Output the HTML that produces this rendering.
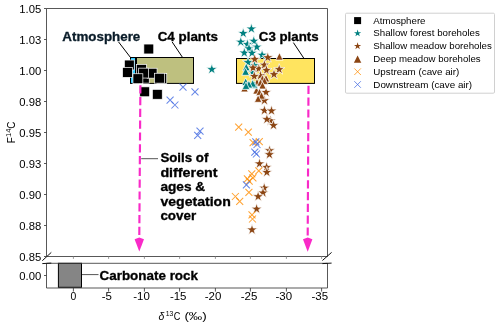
<!DOCTYPE html>
<html><head><meta charset="utf-8"><style>
html,body{margin:0;padding:0;background:#fff;overflow:hidden;}
svg{display:block;}
text{font-family:"Liberation Sans",sans-serif;}
svg{will-change:transform;}
</style></head><body>
<svg width="500" height="326" viewBox="0 0 500 326">
<rect width="500" height="326" fill="#fff"/>
<rect x="130.5" y="57.5" width="5" height="25.9" fill="#33CCFF" stroke="#000" stroke-width="1"/>
<rect x="136.5" y="57.5" width="57" height="25.9" fill="#BEC07F" stroke="#000" stroke-width="1"/>
<rect x="236.5" y="58.5" width="78" height="24.9" fill="#FFE45F" stroke="#000" stroke-width="1"/>
<rect x="143.85" y="44.05" width="9.90" height="9.90" fill="#000" stroke="#fff" stroke-width="0.7"/>
<rect x="124.35" y="60.05" width="9.90" height="9.90" fill="#000" stroke="#fff" stroke-width="0.7"/>
<rect x="122.55" y="67.45" width="9.90" height="9.90" fill="#000" stroke="#fff" stroke-width="0.7"/>
<rect x="139.35" y="73.25" width="9.90" height="9.90" fill="#000" stroke="#fff" stroke-width="0.7"/>
<rect x="147.15" y="68.25" width="9.90" height="9.90" fill="#000" stroke="#fff" stroke-width="0.7"/>
<rect x="156.85" y="73.45" width="9.90" height="9.90" fill="#000" stroke="#fff" stroke-width="0.7"/>
<rect x="136.45" y="64.45" width="9.90" height="9.90" fill="#000" stroke="#fff" stroke-width="0.7"/>
<rect x="138.65" y="68.15" width="9.90" height="9.90" fill="#000" stroke="#fff" stroke-width="0.7"/>
<rect x="154.45" y="73.25" width="9.90" height="9.90" fill="#000" stroke="#fff" stroke-width="0.7"/>
<rect x="132.95" y="73.75" width="9.90" height="9.90" fill="#000" stroke="#fff" stroke-width="0.7"/>
<rect x="139.75" y="86.85" width="9.90" height="9.90" fill="#000" stroke="#fff" stroke-width="0.7"/>
<rect x="152.35" y="89.35" width="9.90" height="9.90" fill="#000" stroke="#fff" stroke-width="0.7"/>
<polygon points="211.80,63.60 210.50,67.61 206.28,67.61 209.69,70.08 208.39,74.09 211.80,71.62 215.21,74.09 213.91,70.08 217.32,67.61 213.10,67.61" fill="#008080" stroke="#fff" stroke-width="0.75"/>
<polygon points="251.40,23.10 250.10,27.11 245.88,27.11 249.29,29.58 247.99,33.59 251.40,31.12 254.81,33.59 253.51,29.58 256.92,27.11 252.70,27.11" fill="#008080" stroke="#fff" stroke-width="0.75"/>
<polygon points="243.20,27.50 241.90,31.51 237.68,31.51 241.09,33.98 239.79,37.99 243.20,35.52 246.61,37.99 245.31,33.98 248.72,31.51 244.50,31.51" fill="#008080" stroke="#fff" stroke-width="0.75"/>
<polygon points="240.80,36.20 239.50,40.21 235.28,40.21 238.69,42.68 237.39,46.69 240.80,44.22 244.21,46.69 242.91,42.68 246.32,40.21 242.10,40.21" fill="#008080" stroke="#fff" stroke-width="0.75"/>
<polygon points="253.80,35.30 252.50,39.31 248.28,39.31 251.69,41.78 250.39,45.79 253.80,43.32 257.21,45.79 255.91,41.78 259.32,39.31 255.10,39.31" fill="#008080" stroke="#fff" stroke-width="0.75"/>
<polygon points="247.40,38.60 246.10,42.61 241.88,42.61 245.29,45.08 243.99,49.09 247.40,46.62 250.81,49.09 249.51,45.08 252.92,42.61 248.70,42.61" fill="#008080" stroke="#fff" stroke-width="0.75"/>
<polygon points="256.80,41.20 255.50,45.21 251.28,45.21 254.69,47.68 253.39,51.69 256.80,49.22 260.21,51.69 258.91,47.68 262.32,45.21 258.10,45.21" fill="#008080" stroke="#fff" stroke-width="0.75"/>
<polygon points="249.00,42.80 247.70,46.81 243.48,46.81 246.89,49.28 245.59,53.29 249.00,50.82 252.41,53.29 251.11,49.28 254.52,46.81 250.30,46.81" fill="#008080" stroke="#fff" stroke-width="0.75"/>
<polygon points="244.30,47.10 243.00,51.11 238.78,51.11 242.19,53.58 240.89,57.59 244.30,55.12 247.71,57.59 246.41,53.58 249.82,51.11 245.60,51.11" fill="#008080" stroke="#fff" stroke-width="0.75"/>
<polygon points="252.00,47.30 250.70,51.31 246.48,51.31 249.89,53.78 248.59,57.79 252.00,55.32 255.41,57.79 254.11,53.78 257.52,51.31 253.30,51.31" fill="#008080" stroke="#fff" stroke-width="0.75"/>
<polygon points="262.10,49.30 260.80,53.31 256.58,53.31 259.99,55.78 258.69,59.79 262.10,57.32 265.51,59.79 264.21,55.78 267.62,53.31 263.40,53.31" fill="#008080" stroke="#fff" stroke-width="0.75"/>
<polygon points="254.20,59.70 252.90,63.71 248.68,63.71 252.09,66.18 250.79,70.19 254.20,67.72 257.61,70.19 256.31,66.18 259.72,63.71 255.50,63.71" fill="#008080" stroke="#fff" stroke-width="0.75"/>
<polygon points="252.80,66.70 251.50,70.71 247.28,70.71 250.69,73.18 249.39,77.19 252.80,74.72 256.21,77.19 254.91,73.18 258.32,70.71 254.10,70.71" fill="#008080" stroke="#fff" stroke-width="0.75"/>
<polygon points="248.00,56.60 246.70,60.61 242.48,60.61 245.89,63.08 244.59,67.09 248.00,64.62 251.41,67.09 250.11,63.08 253.52,60.61 249.30,60.61" fill="#008080" stroke="#fff" stroke-width="0.75"/>
<polygon points="254.70,53.40 253.40,57.41 249.18,57.41 252.59,59.88 251.29,63.89 254.70,61.42 258.11,63.89 256.81,59.88 260.22,57.41 256.00,57.41" fill="#8B4513" stroke="#fff" stroke-width="0.75"/>
<polygon points="267.80,51.70 266.50,55.71 262.28,55.71 265.69,58.18 264.39,62.19 267.80,59.72 271.21,62.19 269.91,58.18 273.32,55.71 269.10,55.71" fill="#8B4513" stroke="#fff" stroke-width="0.75"/>
<polygon points="258.70,62.90 257.40,66.91 253.18,66.91 256.59,69.38 255.29,73.39 258.70,70.92 262.11,73.39 260.81,69.38 264.22,66.91 260.00,66.91" fill="#8B4513" stroke="#fff" stroke-width="0.75"/>
<polygon points="253.00,62.10 251.70,66.11 247.48,66.11 250.89,68.58 249.59,72.59 253.00,70.12 256.41,72.59 255.11,68.58 258.52,66.11 254.30,66.11" fill="#8B4513" stroke="#fff" stroke-width="0.75"/>
<polygon points="264.40,59.20 263.10,63.21 258.88,63.21 262.29,65.68 260.99,69.69 264.40,67.22 267.81,69.69 266.51,65.68 269.92,63.21 265.70,63.21" fill="#8B4513" stroke="#fff" stroke-width="0.75"/>
<polygon points="266.50,64.40 265.20,68.41 260.98,68.41 264.39,70.88 263.09,74.89 266.50,72.42 269.91,74.89 268.61,70.88 272.02,68.41 267.80,68.41" fill="#8B4513" stroke="#fff" stroke-width="0.75"/>
<polygon points="279.20,63.60 277.90,67.61 273.68,67.61 277.09,70.08 275.79,74.09 279.20,71.62 282.61,74.09 281.31,70.08 284.72,67.61 280.50,67.61" fill="#8B4513" stroke="#fff" stroke-width="0.75"/>
<polygon points="274.00,68.60 272.70,72.61 268.48,72.61 271.89,75.08 270.59,79.09 274.00,76.62 277.41,79.09 276.11,75.08 279.52,72.61 275.30,72.61" fill="#8B4513" stroke="#fff" stroke-width="0.75"/>
<polygon points="260.40,69.90 259.10,73.91 254.88,73.91 258.29,76.38 256.99,80.39 260.40,77.92 263.81,80.39 262.51,76.38 265.92,73.91 261.70,73.91" fill="#8B4513" stroke="#fff" stroke-width="0.75"/>
<polygon points="254.30,70.50 253.00,74.51 248.78,74.51 252.19,76.98 250.89,80.99 254.30,78.52 257.71,80.99 256.41,76.98 259.82,74.51 255.60,74.51" fill="#8B4513" stroke="#fff" stroke-width="0.75"/>
<polygon points="266.00,86.50 264.70,90.51 260.48,90.51 263.89,92.98 262.59,96.99 266.00,94.52 269.41,96.99 268.11,92.98 271.52,90.51 267.30,90.51" fill="#8B4513" stroke="#fff" stroke-width="0.75"/>
<polygon points="264.40,94.70 263.10,98.71 258.88,98.71 262.29,101.18 260.99,105.19 264.40,102.72 267.81,105.19 266.51,101.18 269.92,98.71 265.70,98.71" fill="#8B4513" stroke="#fff" stroke-width="0.75"/>
<polygon points="264.40,104.70 263.10,108.71 258.88,108.71 262.29,111.18 260.99,115.19 264.40,112.72 267.81,115.19 266.51,111.18 269.92,108.71 265.70,108.71" fill="#8B4513" stroke="#fff" stroke-width="0.75"/>
<polygon points="271.50,105.10 270.20,109.11 265.98,109.11 269.39,111.58 268.09,115.59 271.50,113.12 274.91,115.59 273.61,111.58 277.02,109.11 272.80,109.11" fill="#8B4513" stroke="#fff" stroke-width="0.75"/>
<polygon points="270.50,114.90 269.20,118.91 264.98,118.91 268.39,121.38 267.09,125.39 270.50,122.92 273.91,125.39 272.61,121.38 276.02,118.91 271.80,118.91" fill="#8B4513" stroke="#fff" stroke-width="0.75"/>
<polygon points="266.90,113.60 265.60,117.61 261.38,117.61 264.79,120.08 263.49,124.09 266.90,121.62 270.31,124.09 269.01,120.08 272.42,117.61 268.20,117.61" fill="#8B4513" stroke="#fff" stroke-width="0.75"/>
<polygon points="273.50,119.60 272.20,123.61 267.98,123.61 271.39,126.08 270.09,130.09 273.50,127.62 276.91,130.09 275.61,126.08 279.02,123.61 274.80,123.61" fill="#8B4513" stroke="#fff" stroke-width="0.75"/>
<polygon points="269.60,144.80 268.30,148.81 264.08,148.81 267.49,151.28 266.19,155.29 269.60,152.82 273.01,155.29 271.71,151.28 275.12,148.81 270.90,148.81" fill="#8B4513" stroke="#fff" stroke-width="0.75"/>
<polygon points="269.40,148.70 268.10,152.71 263.88,152.71 267.29,155.18 265.99,159.19 269.40,156.72 272.81,159.19 271.51,155.18 274.92,152.71 270.70,152.71" fill="#8B4513" stroke="#fff" stroke-width="0.75"/>
<polygon points="259.50,157.90 258.20,161.91 253.98,161.91 257.39,164.38 256.09,168.39 259.50,165.92 262.91,168.39 261.61,164.38 265.02,161.91 260.80,161.91" fill="#8B4513" stroke="#fff" stroke-width="0.75"/>
<polygon points="266.60,161.40 265.30,165.41 261.08,165.41 264.49,167.88 263.19,171.89 266.60,169.42 270.01,171.89 268.71,167.88 272.12,165.41 267.90,165.41" fill="#8B4513" stroke="#fff" stroke-width="0.75"/>
<polygon points="266.80,166.50 265.50,170.51 261.28,170.51 264.69,172.98 263.39,176.99 266.80,174.52 270.21,176.99 268.91,172.98 272.32,170.51 268.10,170.51" fill="#8B4513" stroke="#fff" stroke-width="0.75"/>
<polygon points="264.20,182.20 262.90,186.21 258.68,186.21 262.09,188.68 260.79,192.69 264.20,190.22 267.61,192.69 266.31,188.68 269.72,186.21 265.50,186.21" fill="#8B4513" stroke="#fff" stroke-width="0.75"/>
<polygon points="263.00,187.10 261.70,191.11 257.48,191.11 260.89,193.58 259.59,197.59 263.00,195.12 266.41,197.59 265.11,193.58 268.52,191.11 264.30,191.11" fill="#8B4513" stroke="#fff" stroke-width="0.75"/>
<polygon points="258.10,190.70 256.80,194.71 252.58,194.71 255.99,197.18 254.69,201.19 258.10,198.72 261.51,201.19 260.21,197.18 263.62,194.71 259.40,194.71" fill="#8B4513" stroke="#fff" stroke-width="0.75"/>
<polygon points="256.60,203.20 255.30,207.21 251.08,207.21 254.49,209.68 253.19,213.69 256.60,211.22 260.01,213.69 258.71,209.68 262.12,207.21 257.90,207.21" fill="#8B4513" stroke="#fff" stroke-width="0.75"/>
<polygon points="252.00,224.00 250.70,228.01 246.48,228.01 249.89,230.48 248.59,234.49 252.00,232.02 255.41,234.49 254.11,230.48 257.52,228.01 253.30,228.01" fill="#8B4513" stroke="#fff" stroke-width="0.75"/>
<polygon points="279.40,52.70 275.70,60.10 283.10,60.10" fill="#8B4513" stroke="#fff" stroke-width="0.75"/>
<polygon points="244.50,84.50 240.80,91.90 248.20,91.90" fill="#8B4513" stroke="#fff" stroke-width="0.75"/>
<polygon points="266.00,74.50 262.30,81.90 269.70,81.90" fill="#8B4513" stroke="#fff" stroke-width="0.75"/>
<polygon points="262.50,74.80 258.80,82.20 266.20,82.20" fill="#8B4513" stroke="#fff" stroke-width="0.75"/>
<polygon points="257.00,78.50 253.30,85.90 260.70,85.90" fill="#8B4513" stroke="#fff" stroke-width="0.75"/>
<polygon points="264.50,77.00 260.80,84.40 268.20,84.40" fill="#8B4513" stroke="#fff" stroke-width="0.75"/>
<polygon points="260.50,78.80 256.80,86.20 264.20,86.20" fill="#8B4513" stroke="#fff" stroke-width="0.75"/>
<polygon points="262.50,81.60 258.80,89.00 266.20,89.00" fill="#8B4513" stroke="#fff" stroke-width="0.75"/>
<polygon points="256.50,86.70 252.80,94.10 260.20,94.10" fill="#8B4513" stroke="#fff" stroke-width="0.75"/>
<polygon points="259.50,88.30 255.80,95.70 263.20,95.70" fill="#8B4513" stroke="#fff" stroke-width="0.75"/>
<polygon points="261.50,91.80 257.80,99.20 265.20,99.20" fill="#8B4513" stroke="#fff" stroke-width="0.75"/>
<polygon points="258.10,94.90 254.40,102.30 261.80,102.30" fill="#8B4513" stroke="#fff" stroke-width="0.75"/>
<polygon points="246.30,63.20 242.50,70.80 250.10,70.80" fill="#008080" stroke="#fff" stroke-width="0.75"/>
<polygon points="245.60,67.70 241.80,75.30 249.40,75.30" fill="#008080" stroke="#fff" stroke-width="0.75"/>
<polygon points="245.70,77.90 241.90,85.50 249.50,85.50" fill="#008080" stroke="#fff" stroke-width="0.75"/>
<polygon points="254.30,80.80 250.50,88.40 258.10,88.40" fill="#008080" stroke="#fff" stroke-width="0.75"/>
<polygon points="252.70,79.60 248.90,87.20 256.50,87.20" fill="#008080" stroke="#fff" stroke-width="0.75"/>
<polygon points="248.90,80.40 245.10,88.00 252.70,88.00" fill="#008080" stroke="#fff" stroke-width="0.75"/>
<polygon points="246.00,81.80 242.20,89.40 249.80,89.40" fill="#008080" stroke="#fff" stroke-width="0.75"/>
<path d="M235.20 123.60L242.20 130.60M235.20 130.60L242.20 123.60" stroke="#FF8C00" stroke-width="1.05" opacity="0.8" fill="none"/>
<path d="M244.80 128.70L251.80 135.70M244.80 135.70L251.80 128.70" stroke="#FF8C00" stroke-width="1.05" opacity="0.8" fill="none"/>
<path d="M249.60 139.20L256.60 146.20M249.60 146.20L256.60 139.20" stroke="#FF8C00" stroke-width="1.05" opacity="0.8" fill="none"/>
<path d="M255.80 138.10L262.80 145.10M255.80 145.10L262.80 138.10" stroke="#FF8C00" stroke-width="1.05" opacity="0.8" fill="none"/>
<path d="M255.30 167.30L262.30 174.30M255.30 174.30L262.30 167.30" stroke="#FF8C00" stroke-width="1.05" opacity="0.8" fill="none"/>
<path d="M248.30 170.30L255.30 177.30M248.30 177.30L255.30 170.30" stroke="#FF8C00" stroke-width="1.05" opacity="0.8" fill="none"/>
<path d="M249.40 174.30L256.40 181.30M249.40 181.30L256.40 174.30" stroke="#FF8C00" stroke-width="1.05" opacity="0.8" fill="none"/>
<path d="M243.90 175.40L250.90 182.40M243.90 182.40L250.90 175.40" stroke="#FF8C00" stroke-width="1.05" opacity="0.8" fill="none"/>
<path d="M245.70 177.60L252.70 184.60M245.70 184.60L252.70 177.60" stroke="#FF8C00" stroke-width="1.05" opacity="0.8" fill="none"/>
<path d="M245.40 188.80L252.40 195.80M245.40 195.80L252.40 188.80" stroke="#FF8C00" stroke-width="1.05" opacity="0.8" fill="none"/>
<path d="M231.90 193.00L238.90 200.00M231.90 200.00L238.90 193.00" stroke="#FF8C00" stroke-width="1.05" opacity="0.8" fill="none"/>
<path d="M236.20 197.90L243.20 204.90M236.20 204.90L243.20 197.90" stroke="#FF8C00" stroke-width="1.05" opacity="0.8" fill="none"/>
<path d="M248.50 211.40L255.50 218.40M248.50 218.40L255.50 211.40" stroke="#FF8C00" stroke-width="1.05" opacity="0.8" fill="none"/>
<path d="M249.00 215.50L256.00 222.50M249.00 222.50L256.00 215.50" stroke="#FF8C00" stroke-width="1.05" opacity="0.8" fill="none"/>
<path d="M179.50 83.60L186.50 90.60M179.50 90.60L186.50 83.60" stroke="#4169E1" stroke-width="1.05" opacity="0.8" fill="none"/>
<path d="M191.50 88.40L198.50 95.40M191.50 95.40L198.50 88.40" stroke="#4169E1" stroke-width="1.05" opacity="0.8" fill="none"/>
<path d="M166.60 96.70L173.60 103.70M166.60 103.70L173.60 96.70" stroke="#4169E1" stroke-width="1.05" opacity="0.8" fill="none"/>
<path d="M171.40 101.50L178.40 108.50M171.40 108.50L178.40 101.50" stroke="#4169E1" stroke-width="1.05" opacity="0.8" fill="none"/>
<path d="M196.50 127.60L203.50 134.60M196.50 134.60L203.50 127.60" stroke="#4169E1" stroke-width="1.05" opacity="0.8" fill="none"/>
<path d="M194.20 131.80L201.20 138.80M194.20 138.80L201.20 131.80" stroke="#4169E1" stroke-width="1.05" opacity="0.8" fill="none"/>
<path d="M252.30 138.30L259.30 145.30M252.30 145.30L259.30 138.30" stroke="#4169E1" stroke-width="1.05" opacity="0.8" fill="none"/>
<path d="M253.50 141.00L260.50 148.00M253.50 148.00L260.50 141.00" stroke="#4169E1" stroke-width="1.05" opacity="0.8" fill="none"/>
<path d="M251.30 148.70L258.30 155.70M251.30 155.70L258.30 148.70" stroke="#4169E1" stroke-width="1.05" opacity="0.8" fill="none"/>
<path d="M252.90 150.50L259.90 157.50M252.90 157.50L259.90 150.50" stroke="#4169E1" stroke-width="1.05" opacity="0.8" fill="none"/>
<path d="M242.90 181.30L249.90 188.30M242.90 188.30L249.90 181.30" stroke="#4169E1" stroke-width="1.05" opacity="0.8" fill="none"/>
<line x1="140.40" y1="85.20" x2="139.30" y2="235.40" stroke="#F92AC8" stroke-width="2.15" stroke-dasharray="8.2,3.6"/>
<polygon points="134.60,239.20 139.30,237.60 144.00,239.20 139.30,251.60" fill="#F92AC8"/>
<line x1="308.50" y1="85.80" x2="307.70" y2="235.40" stroke="#F92AC8" stroke-width="2.15" stroke-dasharray="8.2,3.6"/>
<polygon points="303.00,239.20 307.70,237.60 312.40,239.20 307.70,251.80" fill="#F92AC8"/>
<line x1="118.6" y1="42" x2="130.5" y2="57.5" stroke="#000" stroke-width="1.0"/>
<line x1="172.2" y1="42.0" x2="182.6" y2="57.5" stroke="#000" stroke-width="1.0"/>
<line x1="293.4" y1="42.6" x2="304" y2="58.5" stroke="#000" stroke-width="1.0"/>
<line x1="141.2" y1="158.7" x2="158.0" y2="158.7" stroke="#555" stroke-width="1"/>
<line x1="81.8" y1="274.6" x2="98.5" y2="274.6" stroke="#555" stroke-width="1"/>
<text x="62.3" y="41.3" font-size="12.20" font-weight="bold" fill="#0A1C29" stroke="#0A1C29" stroke-width="0.3" textLength="78.0" lengthAdjust="spacingAndGlyphs">Atmosphere</text>
<text x="157.7" y="41.3" font-size="12.20" font-weight="bold" fill="#000" stroke="#000" stroke-width="0.3" textLength="60.2" lengthAdjust="spacingAndGlyphs">C4 plants</text>
<text x="258.8" y="41.2" font-size="12.20" font-weight="bold" fill="#000" stroke="#000" stroke-width="0.3" textLength="59.8" lengthAdjust="spacingAndGlyphs">C3 plants</text>
<text x="160.4" y="162.2" font-size="12.20" font-weight="bold" fill="#000" stroke="#000" stroke-width="0.3" textLength="48.0" lengthAdjust="spacingAndGlyphs">Soils of</text>
<text x="160.4" y="176.8" font-size="12.20" font-weight="bold" fill="#000" stroke="#000" stroke-width="0.3" textLength="57.2" lengthAdjust="spacingAndGlyphs">different</text>
<text x="160.4" y="191.3" font-size="12.20" font-weight="bold" fill="#000" stroke="#000" stroke-width="0.3" textLength="44.8" lengthAdjust="spacingAndGlyphs">ages &amp;</text>
<text x="160.4" y="205.9" font-size="12.20" font-weight="bold" fill="#000" stroke="#000" stroke-width="0.3" textLength="70.4" lengthAdjust="spacingAndGlyphs">vegetation</text>
<text x="160.4" y="220.3" font-size="12.20" font-weight="bold" fill="#000" stroke="#000" stroke-width="0.3" textLength="35.8" lengthAdjust="spacingAndGlyphs">cover</text>
<rect x="58.4" y="263.3" width="23.1" height="24.0" fill="#858585" stroke="#000" stroke-width="1"/>
<text x="99.5" y="279.8" font-size="12.20" font-weight="bold" fill="#000" stroke="#000" stroke-width="0.3" textLength="98.5" lengthAdjust="spacingAndGlyphs">Carbonate rock</text>
<path d="M46.5 8.5H327.5V256.5H46.5Z" stroke="#3a3a3a" stroke-width="0.85" fill="none"/>
<path d="M46.5 263.3H327.5V288.0H46.5Z" stroke="#3a3a3a" stroke-width="0.85" fill="none"/>
<line x1="42.3" y1="260.7" x2="51.3" y2="252.4" stroke="#111" stroke-width="1.0" fill="none"/>
<line x1="322.4" y1="260.5" x2="331.6" y2="252.4" stroke="#111" stroke-width="1.0" fill="none"/>
<line x1="42.3" y1="263.6" x2="51.3" y2="263.1" stroke="#111" stroke-width="1.0" fill="none"/>
<line x1="322.4" y1="263.6" x2="331.6" y2="263.1" stroke="#111" stroke-width="1.0" fill="none"/>
<line x1="44.0" y1="8.50" x2="46.5" y2="8.50" stroke="#3a3a3a" stroke-width="0.85" fill="none"/>
<text x="41.3" y="12.90" font-size="10.4" text-anchor="end" textLength="22" lengthAdjust="spacingAndGlyphs">1.05</text>
<line x1="44.0" y1="39.50" x2="46.5" y2="39.50" stroke="#3a3a3a" stroke-width="0.85" fill="none"/>
<text x="41.3" y="43.90" font-size="10.4" text-anchor="end" textLength="22" lengthAdjust="spacingAndGlyphs">1.03</text>
<line x1="44.0" y1="70.50" x2="46.5" y2="70.50" stroke="#3a3a3a" stroke-width="0.85" fill="none"/>
<text x="41.3" y="74.90" font-size="10.4" text-anchor="end" textLength="22" lengthAdjust="spacingAndGlyphs">1.00</text>
<line x1="44.0" y1="101.50" x2="46.5" y2="101.50" stroke="#3a3a3a" stroke-width="0.85" fill="none"/>
<text x="41.3" y="105.90" font-size="10.4" text-anchor="end" textLength="22" lengthAdjust="spacingAndGlyphs">0.98</text>
<line x1="44.0" y1="132.50" x2="46.5" y2="132.50" stroke="#3a3a3a" stroke-width="0.85" fill="none"/>
<text x="41.3" y="136.90" font-size="10.4" text-anchor="end" textLength="22" lengthAdjust="spacingAndGlyphs">0.95</text>
<line x1="44.0" y1="163.50" x2="46.5" y2="163.50" stroke="#3a3a3a" stroke-width="0.85" fill="none"/>
<text x="41.3" y="167.90" font-size="10.4" text-anchor="end" textLength="22" lengthAdjust="spacingAndGlyphs">0.93</text>
<line x1="44.0" y1="194.50" x2="46.5" y2="194.50" stroke="#3a3a3a" stroke-width="0.85" fill="none"/>
<text x="41.3" y="198.90" font-size="10.4" text-anchor="end" textLength="22" lengthAdjust="spacingAndGlyphs">0.90</text>
<line x1="44.0" y1="225.50" x2="46.5" y2="225.50" stroke="#3a3a3a" stroke-width="0.85" fill="none"/>
<text x="41.3" y="229.90" font-size="10.4" text-anchor="end" textLength="22" lengthAdjust="spacingAndGlyphs">0.88</text>
<line x1="44.0" y1="256.50" x2="46.5" y2="256.50" stroke="#3a3a3a" stroke-width="0.85" fill="none"/>
<text x="41.3" y="260.90" font-size="10.4" text-anchor="end" textLength="22" lengthAdjust="spacingAndGlyphs">0.85</text>
<line x1="44.0" y1="275.5" x2="46.5" y2="275.5" stroke="#3a3a3a" stroke-width="0.85" fill="none"/>
<text x="41.3" y="279.9" font-size="10.4" text-anchor="end" textLength="22" lengthAdjust="spacingAndGlyphs">0.00</text>
<line x1="73.4" y1="288.0" x2="73.4" y2="291.6" stroke="#3a3a3a" stroke-width="0.85" fill="none"/>
<line x1="73.4" y1="256.5" x2="73.4" y2="258.9" stroke="#888" stroke-width="0.85"/>
<text x="73.3" y="299.6" font-size="10.4" text-anchor="middle">0</text>
<line x1="108.6" y1="288.0" x2="108.6" y2="291.6" stroke="#3a3a3a" stroke-width="0.85" fill="none"/>
<line x1="108.6" y1="256.5" x2="108.6" y2="258.9" stroke="#888" stroke-width="0.85"/>
<text x="106.9" y="299.6" font-size="10.4" text-anchor="middle" textLength="10.2" lengthAdjust="spacingAndGlyphs">-5</text>
<line x1="144.4" y1="288.0" x2="144.4" y2="291.6" stroke="#3a3a3a" stroke-width="0.85" fill="none"/>
<line x1="144.4" y1="256.5" x2="144.4" y2="258.9" stroke="#888" stroke-width="0.85"/>
<text x="141.6" y="299.6" font-size="10.4" text-anchor="middle" textLength="16.6" lengthAdjust="spacingAndGlyphs">-10</text>
<line x1="179.6" y1="288.0" x2="179.6" y2="291.6" stroke="#3a3a3a" stroke-width="0.85" fill="none"/>
<line x1="179.6" y1="256.5" x2="179.6" y2="258.9" stroke="#888" stroke-width="0.85"/>
<text x="178.2" y="299.6" font-size="10.4" text-anchor="middle" textLength="16.6" lengthAdjust="spacingAndGlyphs">-15</text>
<line x1="215.4" y1="288.0" x2="215.4" y2="291.6" stroke="#3a3a3a" stroke-width="0.85" fill="none"/>
<line x1="215.4" y1="256.5" x2="215.4" y2="258.9" stroke="#888" stroke-width="0.85"/>
<text x="213.1" y="299.6" font-size="10.4" text-anchor="middle" textLength="16.6" lengthAdjust="spacingAndGlyphs">-20</text>
<line x1="250.4" y1="288.0" x2="250.4" y2="291.6" stroke="#3a3a3a" stroke-width="0.85" fill="none"/>
<line x1="250.4" y1="256.5" x2="250.4" y2="258.9" stroke="#888" stroke-width="0.85"/>
<text x="249.0" y="299.6" font-size="10.4" text-anchor="middle" textLength="16.6" lengthAdjust="spacingAndGlyphs">-25</text>
<line x1="286.4" y1="288.0" x2="286.4" y2="291.6" stroke="#3a3a3a" stroke-width="0.85" fill="none"/>
<line x1="286.4" y1="256.5" x2="286.4" y2="258.9" stroke="#888" stroke-width="0.85"/>
<text x="283.8" y="299.6" font-size="10.4" text-anchor="middle" textLength="16.6" lengthAdjust="spacingAndGlyphs">-30</text>
<line x1="321.6" y1="288.0" x2="321.6" y2="291.6" stroke="#3a3a3a" stroke-width="0.85" fill="none"/>
<line x1="321.6" y1="256.5" x2="321.6" y2="258.9" stroke="#888" stroke-width="0.85"/>
<text x="319.8" y="299.6" font-size="10.4" text-anchor="middle" textLength="16.6" lengthAdjust="spacingAndGlyphs">-35</text>
<text x="158.6" y="319.5" font-size="10.6" font-style="italic" textLength="5.8" lengthAdjust="spacingAndGlyphs">δ</text>
<text x="165.7" y="315.9" font-size="7.9" textLength="7.6" lengthAdjust="spacingAndGlyphs">13</text>
<text x="173.8" y="319.5" font-size="10.6" textLength="6.6" lengthAdjust="spacingAndGlyphs">C</text>
<text x="184.4" y="319.5" font-size="10.6" textLength="22.4" lengthAdjust="spacingAndGlyphs">(‰)</text>
<text transform="translate(14.9,143.2) rotate(-90)" font-size="10.0">F<tspan font-size="7.6" dy="-3.9">14</tspan><tspan dy="3.9">C</tspan></text>
<rect x="345.5" y="13.2" width="149" height="80" rx="1.2" fill="#fff" stroke="#d0d0d0" stroke-width="1"/>
<rect x="354.10" y="17.10" width="7.00" height="7.00" fill="#000" stroke="none" stroke-width="0"/>
<polygon points="357.60,29.50 356.75,32.13 353.99,32.13 356.22,33.75 355.37,36.37 357.60,34.75 359.83,36.37 358.98,33.75 361.21,32.13 358.45,32.13" fill="#008080" stroke="none" stroke-width="0"/>
<polygon points="357.60,42.30 356.75,44.93 353.99,44.93 356.22,46.55 355.37,49.17 357.60,47.55 359.83,49.17 358.98,46.55 361.21,44.93 358.45,44.93" fill="#8B4513" stroke="none" stroke-width="0"/>
<polygon points="357.60,55.40 353.90,62.80 361.30,62.80" fill="#8B4513" stroke="none" stroke-width="0"/>
<path d="M354.30 68.40L360.90 75.00M354.30 75.00L360.90 68.40" stroke="#FF8C00" stroke-width="1.0" opacity="0.75" fill="none"/>
<path d="M354.30 81.20L360.90 87.80M354.30 87.80L360.90 81.20" stroke="#4169E1" stroke-width="1.0" opacity="0.75" fill="none"/>
<text x="373.3" y="23.6" font-size="9.2" textLength="52.2" lengthAdjust="spacingAndGlyphs">Atmosphere</text>
<text x="373.3" y="36.3" font-size="9.2" textLength="106.6" lengthAdjust="spacingAndGlyphs">Shallow forest boreholes</text>
<text x="373.3" y="49.1" font-size="9.2" textLength="118.5" lengthAdjust="spacingAndGlyphs">Shallow meadow boreholes</text>
<text x="373.3" y="61.9" font-size="9.2" textLength="107.3" lengthAdjust="spacingAndGlyphs">Deep meadow boreholes</text>
<text x="373.3" y="74.7" font-size="9.2" textLength="86.0" lengthAdjust="spacingAndGlyphs">Upstream (cave air)</text>
<text x="373.3" y="87.5" font-size="9.2" textLength="98.8" lengthAdjust="spacingAndGlyphs">Downstream (cave air)</text>
</svg>
</body></html>
